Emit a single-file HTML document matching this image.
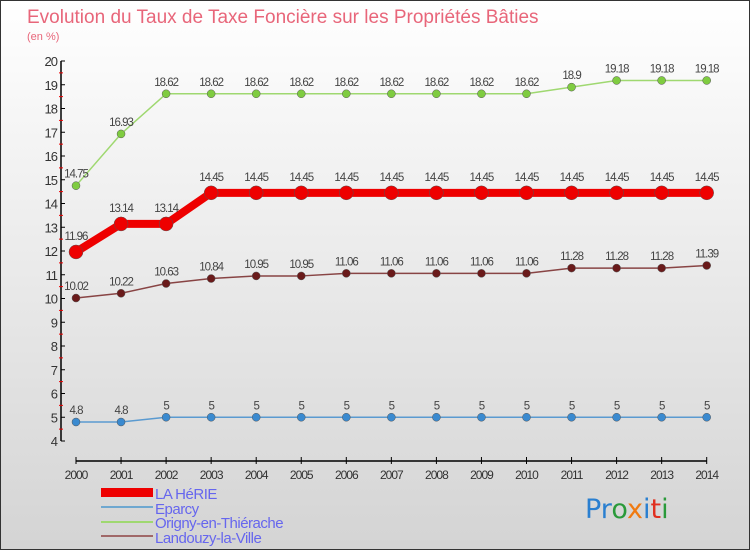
<!DOCTYPE html>
<html><head><meta charset="utf-8"><style>
body{margin:0}
#c{position:relative;width:748px;height:548px;border:1px solid #333;background:linear-gradient(#ffffff,#d4d4d4);overflow:hidden;font-family:"Liberation Sans",sans-serif}
</style></head><body>
<div id="c">
<svg width="748" height="548" id="s" style="position:absolute;left:0;top:0">
<text x="26" y="22" font-size="19" fill="#e8667a">Evolution du Taux de Taxe Foncière sur les Propriétés Bâties</text>
<text x="26" y="39" font-size="11" fill="#e8667a">(en %)</text>
<g id="axes"></g><g id="plot"></g>
<g>
<rect x="100" y="487" width="52" height="9" fill="#ee0000"/>
<line x1="100" y1="506" x2="152" y2="506" stroke="#6fa8d0" stroke-width="2"/>
<line x1="100" y1="521" x2="152" y2="521" stroke="#9fd870" stroke-width="2"/>
<line x1="100" y1="535" x2="152" y2="535" stroke="#a06868" stroke-width="2"/>
<g font-size="15" fill="#6666ee" letter-spacing="-0.5">
<text x="154" y="498">LA HéRIE</text>
<text x="154" y="513">Eparcy</text>
<text x="154" y="527">Origny-en-Thiérache</text>
<text x="154" y="542">Landouzy-la-Ville</text>
</g></g>
<text x="584" y="517" font-size="27" font-family="'DejaVu Sans',sans-serif"><tspan fill="#2a7fd0">Pr</tspan><tspan fill="#2a9a3a">o</tspan><tspan fill="#f07a10">x</tspan><tspan fill="#2a7fd0">i</tspan><tspan fill="#e03020">t</tspan><tspan fill="#2a9a3a">i</tspan></text>
</svg></div>
<script>
const years=[2000,2001,2002,2003,2004,2005,2006,2007,2008,2009,2010,2011,2012,2013,2014];
const laHerie=[11.96,13.14,13.14,14.45,14.45,14.45,14.45,14.45,14.45,14.45,14.45,14.45,14.45,14.45,14.45];
const eparcy=[4.8,4.8,5,5,5,5,5,5,5,5,5,5,5,5,5];
const origny=[14.75,16.93,18.62,18.62,18.62,18.62,18.62,18.62,18.62,18.62,18.62,18.9,19.18,19.18,19.18];
const landouzy=[10.02,10.22,10.63,10.84,10.95,10.95,11.06,11.06,11.06,11.06,11.06,11.28,11.28,11.28,11.39];
const yTicks=[4,5,6,7,8,9,10,11,12,13,14,15,16,17,18,19,20];
const NS='http://www.w3.org/2000/svg';
const X=i=>75+i*45.05, Y=v=>440-(v-4)*23.75;
function mk(p,t,a){const e=document.createElementNS(NS,t);for(const k in a)e.setAttribute(k,a[k]);p.appendChild(e);return e;}
const ax=document.getElementById('axes');
let l=mk(ax,'line',{x1:60,y1:Y(20),x2:60,y2:Y(4),stroke:'#000','stroke-width':1.5});

l=mk(ax,'line',{x1:X(0),y1:460,x2:X(years.length-1),y2:460,stroke:'#000','stroke-width':1.5});

yTicks.forEach(v=>{
 mk(ax,'line',{x1:60,y1:Y(v),x2:64,y2:Y(v),stroke:'#000'});
 if(v<20) mk(ax,'line',{x1:58,y1:Y(v+0.5),x2:62,y2:Y(v+0.5),stroke:'#e00'});
 const t=mk(ax,'text',{x:56,y:Y(v)+5,'text-anchor':'end','font-size':13,fill:'#333','letter-spacing':'-1'});
 t.textContent=v;
 
});
years.forEach((y,i)=>{
 mk(ax,'line',{x1:X(i),y1:456,x2:X(i),y2:463,stroke:'#000'});
 const t=mk(ax,'text',{x:X(i),y:478,'text-anchor':'middle','font-size':12,fill:'#333','letter-spacing':'-1'});
 t.textContent=y;
 
});
const pl=document.getElementById('plot');
function series(name,vals,color,w,r,dot,lblOff){
 const g=mk(pl,'g',{});
 
 const p=mk(g,'polyline',{points:vals.map((v,i)=>X(i)+','+Y(v)).join(' '),fill:'none',stroke:color,'stroke-width':w,'stroke-linejoin':'round'});
 
 vals.forEach((v,i)=>{
  const c=mk(g,'circle',{cx:X(i),cy:Y(v),r:r,fill:dot,stroke:'#555','stroke-width':0.5});
  
  const t=mk(g,'text',{x:X(i),y:Y(v)-lblOff,'text-anchor':'middle','font-size':11.5,fill:'#444','letter-spacing':'-1'});
  t.textContent=v;
  
 });
}
series('origny',origny,'#9fd870',1.5,4,'#7fcc40',8);
series('landouzy',landouzy,'#884444',1.5,4,'#6a1a1a',8);
series('eparcy',eparcy,'#5a9ad0',1.5,4,'#3a8ad0',8);
series('la-herie',laHerie,'#ee0000',8,7,'#ee0000',12);
</script>
</body></html>
